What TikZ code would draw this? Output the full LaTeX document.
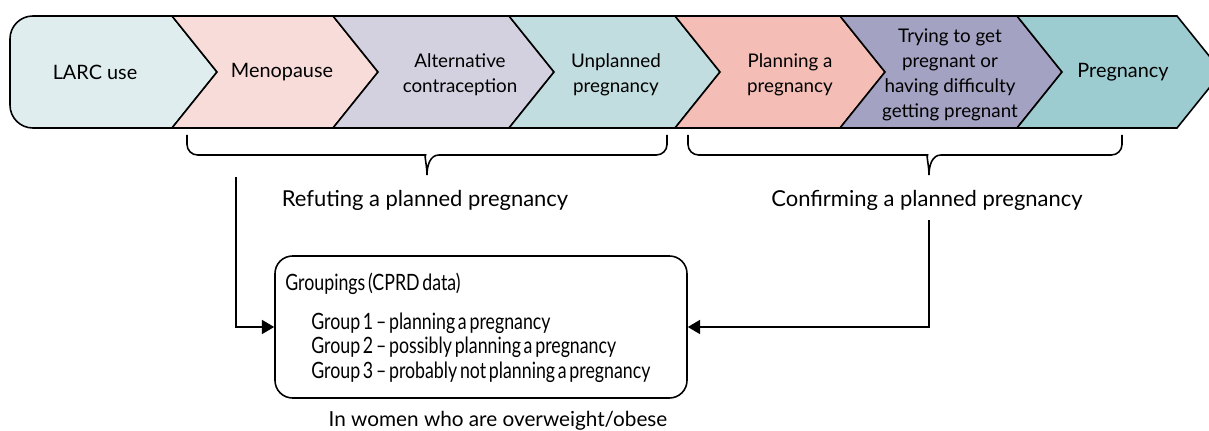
\documentclass[tikz,border=0pt]{standalone}
\usepackage{fontspec}
\setmainfont{Lato}
\newfontfamily\grpfont[FakeStretch=0.79, WordSpace=0.6]{Lato}
\usetikzlibrary{arrows.meta}

\definecolor{larcC}{HTML}{DFEDEE}
\definecolor{menoC}{HTML}{F7DCDA}
\definecolor{altC}{HTML}{D3D0E0}
\definecolor{unplC}{HTML}{C2DDDF}
\definecolor{planC}{HTML}{F4BDB6}
\definecolor{tryC}{HTML}{A3A2C2}
\definecolor{pregC}{HTML}{9CCBD0}

\tikzset{
  chev/.style={draw=black, line width=0.9pt, line join=miter},
  chevtext/.style={align=center, font=\fontsize{11.3}{14}\selectfont},
  chevlines/.style={align=center, font=\fontsize{10.7}{14.1}\selectfont},
  lbl/.style={font=\fontsize{12.5}{15}\selectfont},
  grp/.style={font=\grpfont\fontsize{12.8}{14}\selectfont, anchor=base west, inner sep=0pt},
  conn/.style={line width=0.9pt, -{Triangle[length=7pt,width=8pt]}},
  brace/.style={line width=0.9pt, rounded corners=6}
}

\begin{document}
\begin{tikzpicture}[x=0.02cm, y=-0.02cm]

\useasboundingbox (0,0) rectangle (1209,431);
\begin{scope}
\clip (0,0) rectangle (1209,431);

% chevron band
\filldraw[chev, fill=larcC] (217,72) -- (172,128) [rounded corners=13] -- (10,128) -- (10,16) [sharp corners] -- (172,16) -- cycle;
\filldraw[chev, fill=menoC] (172,16) -- (333,16) -- (378,72) -- (333,128) -- (172,128) -- (217,72) -- cycle;
\filldraw[chev, fill=altC] (333,16) -- (509,16) -- (554,72) -- (509,128) -- (333,128) -- (378,72) -- cycle;
\filldraw[chev, fill=unplC] (509,16) -- (675,16) -- (720,72) -- (675,128) -- (509,128) -- (554,72) -- cycle;
\filldraw[chev, fill=planC] (675,16) -- (840,16) -- (885,72) -- (840,128) -- (675,128) -- (720,72) -- cycle;
\filldraw[chev, fill=tryC] (840,16) -- (1017,16) -- (1062,72) -- (1017,128) -- (840,128) -- (885,72) -- cycle;
\filldraw[chev, fill=pregC] (1017,16) -- (1177,16) -- (1222,72) -- (1177,128) -- (1017,128) -- (1062,72) -- cycle;
\end{scope}

\node[chevtext] (larc) at (95,72) {LARC use};
\node[chevtext] (meno) at (282,72) {Menopause};
\node[chevlines] (alt) at (460,75) {Alternative\\contraception};
\node[chevlines] (unpl) at (616,75) {Unplanned\\pregnancy};
\node[chevlines] (plan) at (790,75) {Planning a\\pregnancy};
\node[chevlines] (try) at (950,75) {Trying to get\\pregnant or\\having difficulty\\getting pregnant};
\node[chevtext] (preg) at (1123,72) {Pregnancy};

% braces
\draw[brace] (187,135) -- (187,155) -- (415,155) [sharp corners] to[out=0,in=90] (427,175) to[out=90,in=180] (439,155) [rounded corners=6] -- (667,155) -- (667,135);
\draw[brace] (688,135) -- (688,155) -- (917,155) [sharp corners] to[out=0,in=90] (929,175) to[out=90,in=180] (941,155) [rounded corners=6] -- (1122,155) -- (1122,135);

\node[lbl] (refute) at (425,200) {Refuting a planned pregnancy};
\node[lbl] (confirm) at (927,200) {Confirming a planned pregnancy};

% groupings box
\node[draw, line width=0.9pt, rounded corners=10, minimum width=412*0.02cm, minimum height=142*0.02cm] (groups) at (481,327) {};
\node[grp] (ghead) at (285,291) {Groupings (CPRD data)};
\node[grp] (g1) at (311,330) {Group 1 – planning a pregnancy};
\node[grp] (g2) at (311,354) {Group 2 – possibly planning a pregnancy};
\node[grp] (g3) at (311,379) {Group 3 – probably not planning a pregnancy};
\node[lbl, font=\fontsize{11.8}{14}\selectfont] (women) at (498,421) {In women who are overweight/obese};

% connectors
\coordinate (lstart) at (236,177);
\coordinate (rstart) at (929,220);
\draw[conn] (lstart) |- (groups.west);
\draw[conn] (rstart) |- (groups.east);

\end{tikzpicture}
\end{document}
